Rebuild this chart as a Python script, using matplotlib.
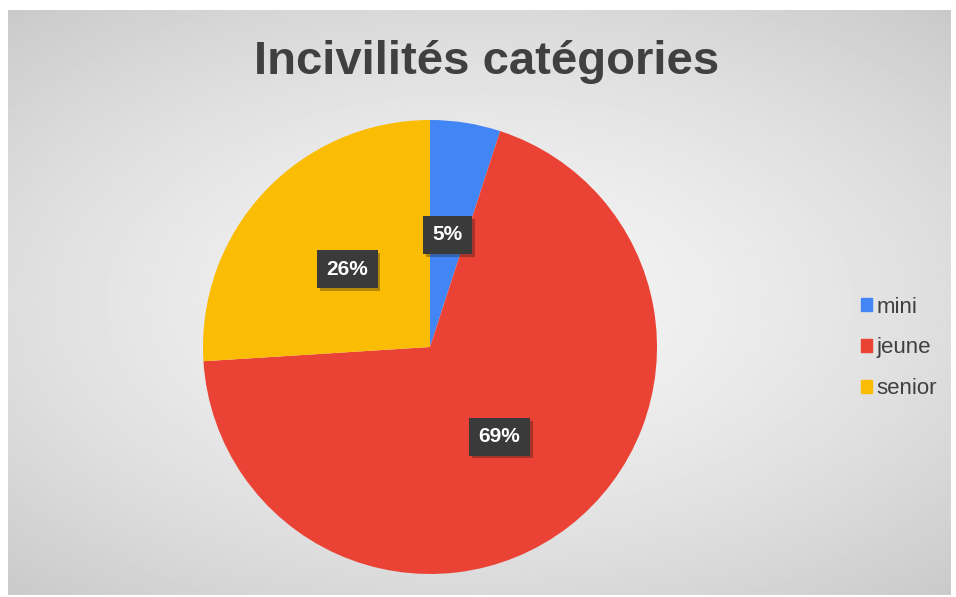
"""Pie chart: Incivilités catégories."""
import numpy as np
import matplotlib
matplotlib.use("Agg")
import matplotlib.pyplot as plt
import matplotlib.patheffects as pe

labels = ["mini", "jeune", "senior"]
values = [5, 69, 26]
colors = ["#4285F4", "#EA4335", "#FBBC04"]
title = "Incivilités catégories"

W, H = 956, 597
fig = plt.figure(figsize=(W / 100, H / 100), dpi=100)
fig.patch.set_facecolor("white")

# gray radial-gradient backdrop (chart frame)
x0, x1, y0, y1 = 8, 950, 10, 595
bg = fig.add_axes([x0 / W, 1 - y1 / H, (x1 - x0) / W, (y1 - y0) / H])
yy, xx = np.mgrid[-1:1:300j, -1:1:400j]
r = np.sqrt((xx * 0.9) ** 2 + (yy * 1.0) ** 2)
grad = 0.96 - 0.17 * np.clip(r / 1.35, 0, 1) ** 1.5
bg.imshow(grad, cmap="gray", vmin=0, vmax=1, aspect="auto",
          extent=[0, 1, 0, 1], interpolation="bilinear")
bg.set_axis_off()

# pie axes: centre (430, 347), radius 227 px
cx, cy, rad = 430, 347, 227
ax = fig.add_axes([(cx - rad) / W, 1 - (cy + rad) / H, 2 * rad / W, 2 * rad / H])
wedges, texts, autotexts = ax.pie(
    values, colors=colors, startangle=90, counterclock=False,
    autopct="%d%%", pctdistance=0.5, radius=1.0,
    wedgeprops=dict(linewidth=0),
    textprops=dict(color="white", fontsize=15, fontweight="bold",
                   family="Liberation Sans"))
for t in autotexts:
    t.set_bbox(dict(boxstyle="square,pad=0.45", facecolor="#3a3a3a",
                    edgecolor="none",
                    path_effects=[pe.SimplePatchShadow(offset=(2, -2), alpha=0.3),
                                  pe.Normal()]))
ax.set_xlim(-1, 1)
ax.set_ylim(-1, 1)
ax.set_aspect("auto")
ax.set_axis_off()

fig.text(487 / W, 1 - 62 / H, title, ha="center", va="center",
         fontsize=34, fontweight="bold", color="#404040",
         family="Liberation Sans")

handles = [plt.Rectangle((0, 0), 1, 1, color=c) for c in colors]
leg = fig.legend(handles, labels, loc="center left",
                 bbox_to_anchor=(850 / W, 1 - 348 / H), frameon=False,
                 handlelength=0.5, handleheight=0.5, handletextpad=0.2,
                 labelspacing=0.89, borderpad=0,
                 prop=dict(family="Liberation Sans", size=16))
for t in leg.get_texts():
    t.set_color("#404040")

fig.savefig("out.png", dpi=100, facecolor=fig.get_facecolor())
